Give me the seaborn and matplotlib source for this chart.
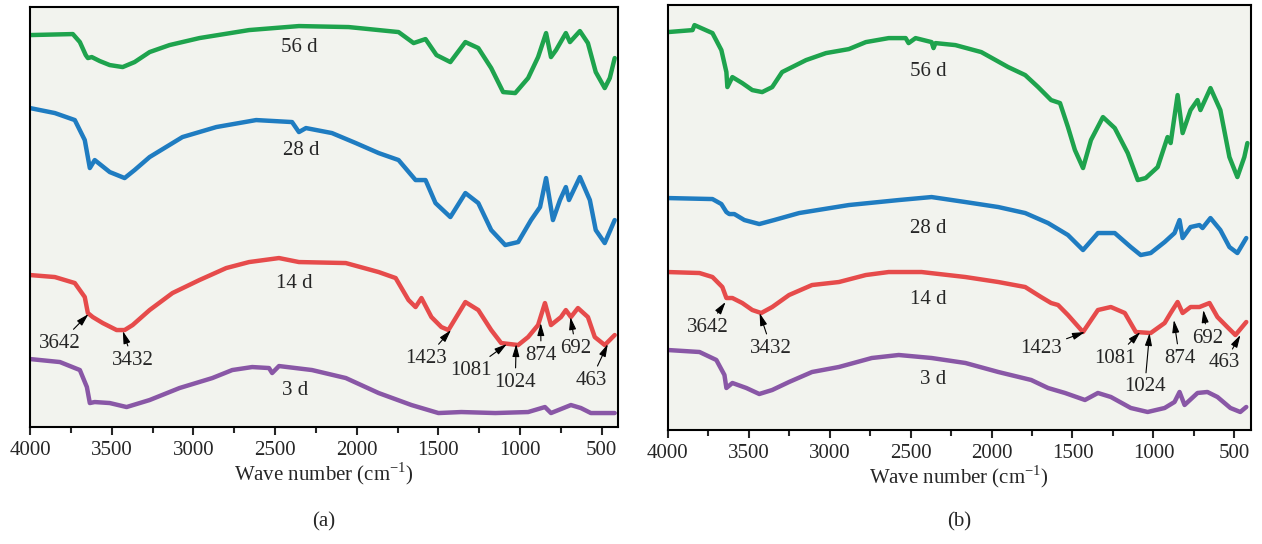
import matplotlib
matplotlib.use("Agg")
import matplotlib.pyplot as plt
import seaborn as sns

# wavenumbers (cm-1) and transmittance (a.u.)
# ---- panel (a)
a56_w = [4000, 3738, 3695, 3659, 3646, 3622, 3573, 3512, 3433, 3360, 3268, 3146, 2963, 2659, 2354, 2049, 1744,
         1652, 1579, 1512, 1427, 1335, 1256, 1177, 1104, 1030, 951, 890, 841, 811, 780, 720, 695, 634, 585, 537,
         482, 451, 421]
a56_t = [392, 393, 385, 372, 369, 370, 366, 362, 360, 365, 375, 382, 389, 397, 401, 400, 395,
         384, 388, 372, 365, 385, 379, 359, 335, 334, 349, 370, 394, 370, 377, 394, 385, 396, 384, 355,
         339, 349, 369]

a28_w = [4000, 3848, 3726, 3665, 3634, 3604, 3512, 3421, 3360, 3268, 3067, 2860, 2616, 2396, 2354, 2311, 2152,
         2006, 1866, 1744, 1640, 1579, 1518, 1427, 1335, 1256, 1177, 1091, 1012, 933, 878, 841, 799, 756, 720,
         701, 634, 573, 537, 482, 421]
a28_t = [319, 314, 307, 287, 259, 267, 255, 249, 257, 270, 290, 300, 307, 305, 295, 299, 294,
         284, 274, 267, 247, 247, 224, 210, 234, 224, 197, 182, 185, 207, 220, 249, 207, 227, 240,
         227, 250, 227, 197, 184, 207]

a14_w = [4000, 3848, 3726, 3665, 3646, 3616, 3555, 3470, 3421, 3372, 3268, 3128, 2963, 2799, 2659, 2476, 2354,
         2067, 1866, 1762, 1683, 1640, 1604, 1543, 1482, 1439, 1335, 1256, 1177, 1116, 1012, 951, 890, 848,
         811, 750, 720, 689, 646, 585, 543, 482, 421]
a14_t = [152, 150, 144, 130, 114, 110, 104, 97, 97, 102, 117, 134, 147, 159, 165, 169, 165,
         164, 155, 149, 127, 120, 129, 110, 100, 97, 125, 117, 97, 84, 82, 90, 102, 124,
         102, 110, 117, 110, 119, 110, 90, 82, 92]

a3_w = [4000, 3817, 3695, 3652, 3634, 3604, 3512, 3409, 3268, 3085, 2884, 2762, 2640, 2537, 2518, 2476, 2274,
        2067, 1866, 1665, 1500, 1360, 1152, 951, 848, 811, 689, 628, 567, 421]
a3_t = [68, 65, 57, 40, 24, 25, 24, 20, 27, 39, 49, 57, 60, 59, 54, 61, 57,
        49, 34, 22, 14, 15, 14, 15, 20, 14, 22, 19, 14, 14]

# ---- panel (b)
b56_w = [4000, 3846, 3834, 3723, 3668, 3637, 3631, 3600, 3539, 3477, 3416, 3354, 3293, 3145, 3022, 2881, 2776,
         2635, 2530, 2512, 2469, 2370, 2358, 2346, 2223, 2063, 1897, 1792, 1712, 1632, 1577, 1528, 1485, 1435,
         1386, 1312, 1239, 1159, 1097, 1048, 974, 913, 894, 851, 820, 771, 728, 710, 648, 587, 531, 482, 439, 420]
b56_t = [398, 400, 405, 397, 380, 358, 343, 353, 347, 340, 338, 343, 358, 370, 377, 381, 388,
         392, 392, 387, 392, 388, 382, 387, 385, 378, 363, 355, 343, 330, 327, 303, 280, 262,
         290, 313, 302, 277, 250, 252, 263, 293, 287, 335, 297, 320, 330, 320, 342, 320, 273, 253, 273, 287]

b28_w = [4000, 3723, 3668, 3637, 3619, 3588, 3526, 3434, 3342, 3188, 2881, 2573, 2370, 2161, 1958, 1792, 1651,
         1528, 1435, 1343, 1239, 1140, 1079, 1017, 931, 870, 839, 820, 771, 716, 697, 648, 587, 531, 482, 427]
b28_t = [232, 231, 226, 218, 216, 216, 210, 206, 210, 217, 225, 230, 233, 228, 223, 217, 207,
         195, 180, 197, 197, 183, 175, 177, 188, 197, 210, 192, 203, 205, 202, 212, 200, 183, 177, 192]

b14_w = [4000, 3803, 3723, 3662, 3637, 3600, 3539, 3477, 3422, 3354, 3250, 3108, 2942, 2776, 2635, 2432, 2161,
         1958, 1792, 1694, 1632, 1589, 1528, 1435, 1343, 1263, 1177, 1109, 1017, 931, 894, 851, 820, 771, 716,
         654, 605, 544, 494, 427]
b14_t = [158, 157, 153, 143, 132, 132, 127, 120, 117, 123, 135, 145, 148, 155, 158, 158, 153,
         148, 143, 133, 127, 125, 115, 98, 120, 123, 117, 98, 97, 107, 117, 128, 117, 123, 123,
         127, 113, 103, 95, 108]

b3_w = [4000, 3803, 3699, 3649, 3637, 3600, 3514, 3434, 3354, 3250, 3108, 2942, 2739, 2573, 2370, 2161, 1958,
        1755, 1651, 1546, 1423, 1343, 1263, 1140, 1036, 931, 870, 839, 808, 728, 667, 605, 525, 464, 427]
b3_t = [80, 78, 70, 55, 42, 47, 42, 36, 40, 48, 58, 63, 72, 75, 72, 67, 58,
        50, 42, 37, 30, 37, 33, 22, 18, 22, 28, 38, 25, 37, 38, 33, 22, 18, 23]

ages = ["56 d", "28 d", "14 d", "3 d"]
colors = ["#1ea34d", "#1f7cc1", "#e64b4b", "#8957a6"]

a_label_pos = [(2354, 380), (2342, 277), (2384, 144), (2378, 37)]
b_label_pos = [(2389, 359), (2389, 202), (2389, 131), (2358, 50)]

bands = ["3642", "3432", "1423", "1081", "1024", "874", "692", "463"]
a_band_y = [113, 96, 97, 83, 83, 104, 110, 83]
a_text_pos = [(3817, 84), (3372, 67), (1573, 69), (1299, 57), (1030, 45), (872, 72), (659, 79), (567, 47)]
b_band_y = [128, 117, 98, 98, 97, 110, 120, 95]
b_text_pos = [(3754, 103), (3360, 82), (1694, 82), (1239, 72), (1054, 43), (839, 72), (667, 92), (562, 67)]

sns.set_style("ticks")
plt.rcParams["font.family"] = ["Liberation Serif", "DejaVu Serif"]
plt.rcParams["mathtext.fontset"] = "custom"
plt.rcParams["mathtext.rm"] = "Liberation Serif"

fs = 15
fig = plt.figure(figsize=(12.62, 5.44), dpi=100)
ax_a = fig.add_axes([0.0238, 0.215, 0.466, 0.772])
ax_b = fig.add_axes([0.529, 0.2096, 0.462, 0.781])

panels = [
    (ax_a, [(a56_w, a56_t), (a28_w, a28_t), (a14_w, a14_t), (a3_w, a3_t)], a_label_pos, a_band_y, a_text_pos,
     420, "(a)"),
    (ax_b, [(b56_w, b56_t), (b28_w, b28_t), (b14_w, b14_t), (b3_w, b3_t)], b_label_pos, b_band_y, b_text_pos,
     425, "(b)"),
]

for ax, curves, label_pos, band_y, text_pos, ytop, tag in panels:
    ax.set_facecolor("#f2f3ee")
    for (w, t), color, age, (lx, ly) in zip(curves, colors, ages, label_pos):
        sns.lineplot(x=w, y=t, ax=ax, color=color, lw=3.2, estimator=None, sort=False,
                     solid_joinstyle="round", solid_capstyle="round")
        ax.text(lx, ly, age, fontsize=fs, ha="center", va="center")
    for band, by, (tx, ty) in zip(bands, band_y, text_pos):
        ax.annotate(band, xy=(float(band), by), xytext=(tx, ty), fontsize=fs, ha="center", va="center",
                    arrowprops=dict(arrowstyle="-|>,head_length=0.5,head_width=0.14", color="black", lw=0.8,
                                    shrinkA=1, shrinkB=0))
    ax.set_xlim(4000, 400)
    ax.set_ylim(0, ytop)
    ax.set_yticks([])
    ax.set_xticks([4000, 3500, 3000, 2500, 2000, 1500, 1000, 500])
    ax.set_xticks(range(3750, 400, -500), minor=True)
    ax.tick_params(axis="x", which="major", direction="out", length=6, width=1.5, labelsize=fs, pad=4)
    ax.tick_params(axis="x", which="minor", direction="out", length=4, width=1.5)
    for sp in ax.spines.values():
        sp.set_visible(True)
        sp.set_color("black")
        sp.set_linewidth(1.5)
    ax.set_xlabel("Wave number (cm$^{\\mathrm{-1}}$)", fontsize=fs, labelpad=0.5)
    pos = ax.get_position()
    fig.text(pos.x0 + pos.width / 2, 0.04, tag, fontsize=fs, ha="center", va="center")

fig.savefig("out.png", dpi=100)
